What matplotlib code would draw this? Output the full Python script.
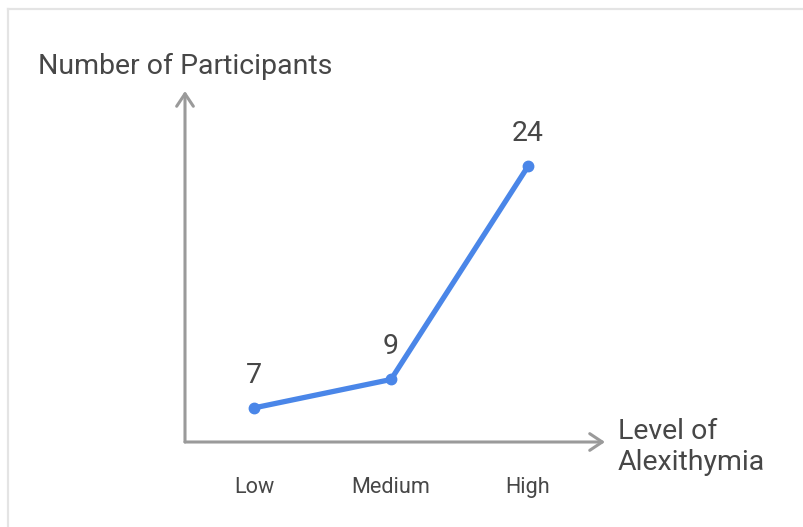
import matplotlib.pyplot as plt
from matplotlib.lines import Line2D
from matplotlib.transforms import blended_transform_factory

plt.rcParams['font.family'] = ['Roboto', 'DejaVu Sans']

levels = ["Low", "Medium", "High"]
participants = [7, 9, 24]

W, H = 804, 527
text_col = "#474747"
axis_col = "#9a9a9a"
line_col = "#4a86e8"

fig = plt.figure(figsize=(W / 100, H / 100), dpi=100)

# axes box spans from the axis origin to the arrow tips (pixel positions)
x0, x1 = 185, 605
y0, y1 = 442, 91
ax = fig.add_axes([x0 / W, (H - y0) / H, (x1 - x0) / W, (y0 - y1) / H])
xs = list(range(len(levels)))
ax.set_xlim(-0.504, 2.562)
ax.set_ylim(4.6, 29.3)
ax.axis("off")

# arrows for the axes
arrow = dict(arrowstyle="->,head_length=0.45,head_width=0.3", color=axis_col,
             lw=2.2, mutation_scale=20, shrinkA=0, shrinkB=0)
ax.annotate("", xy=(1, 0), xytext=(0, 0), xycoords="axes fraction",
            textcoords="axes fraction", arrowprops=arrow)
ax.annotate("", xy=(0, 1), xytext=(0, 0), xycoords="axes fraction",
            textcoords="axes fraction", arrowprops=arrow)

ax.plot(xs, participants, color=line_col, lw=3.8, marker="o", markersize=7.5,
        solid_capstyle="round", clip_on=False)

for x, v in zip(xs, participants):
    ax.annotate(str(v), (x, v), xytext=(0, 18), textcoords="offset points",
                ha="center", va="baseline", fontsize=20.5, color=text_col)

# category labels under the x axis
tr = blended_transform_factory(ax.transData, fig.transFigure)
for x, lab in zip(xs, levels):
    ax.text(x, (H - 493) / H, lab, transform=tr, ha="center", va="baseline",
            fontsize=15.6, color=text_col)

fig.text(38 / W, (H - 74) / H, "Number of Participants", ha="left",
         va="baseline", fontsize=20.5, color=text_col)
fig.text(618 / W, (H - 470) / H, "Level of\nAlexithymia", ha="left",
         va="baseline", fontsize=20.5, color=text_col, linespacing=1.2)

# light frame at top and left edges
fig.add_artist(Line2D([8 / W, 8 / W], [0, (H - 9) / H], color="#e4e4e4",
                      lw=1.6, transform=fig.transFigure))
fig.add_artist(Line2D([8 / W, 1], [(H - 9) / H, (H - 9) / H], color="#e4e4e4",
                      lw=1.6, transform=fig.transFigure))

fig.savefig("out.png", dpi=100, facecolor="white")
